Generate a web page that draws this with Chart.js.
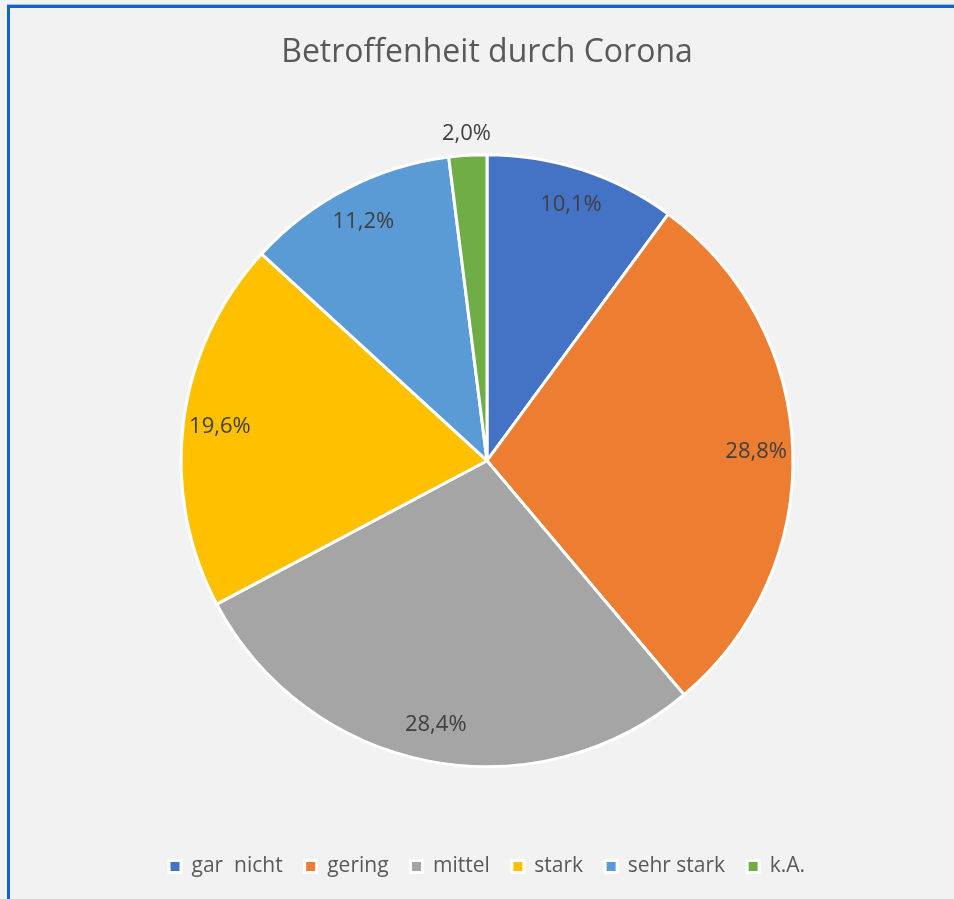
<!DOCTYPE html>
<html>
<head>
<meta charset="utf-8">
<script src="https://cdn.jsdelivr.net/npm/chart.js@4"></script>
<style>
    html, body { margin: 0; padding: 0; background: #f2f2f2; overflow: hidden; }
    #frame {
        position: absolute; left: 7px; top: 5px; width: 960px; height: 900px;
        border-left: 3px solid #0f64c8; border-top: 3px solid #0f64c8;
        box-shadow: 0 -1px 0 #9cc0ea;
    }
    #wrap { position: absolute; left: 0; top: 0; width: 954px; height: 887px; }
</style>
</head>
<body>
<div id="frame"></div>
<div id="wrap"><canvas id="myChart"></canvas></div>
<script>
const categories = ['gar  nicht', 'gering', 'mittel', 'stark', 'sehr stark', 'k.A.'];
const shares = [10.1, 28.8, 28.4, 19.6, 11.2, 2.0];
const sliceColors = ['#4472c4', '#ed7d31', '#a5a5a5', '#ffc000', '#5b9bd5', '#70ad47'];

// Prozentwerte in die Segmente schreiben
const sliceLabels = {
    id: 'sliceLabels',
    afterDatasetsDraw(chart) {
        const ctx = chart.ctx;
        const meta = chart.getDatasetMeta(0);
        ctx.save();
        ctx.font = '22px "Open Sans"';
        ctx.fillStyle = '#404040';
        ctx.textAlign = 'center';
        ctx.textBaseline = 'middle';
        meta.data.forEach((arc, i) => {
            const p = arc.getProps(['x', 'y', 'startAngle', 'endAngle', 'outerRadius'], true);
            const mid = (p.startAngle + p.endAngle) / 2;
            const r = shares[i] < 5 ? p.outerRadius + 22 : p.outerRadius * 0.88;
            const text = shares[i].toFixed(1).replace('.', ',') + '%';
            ctx.fillText(text, p.x + Math.cos(mid) * r, p.y + Math.sin(mid) * r);
        });
        ctx.restore();
    }
};

const ctx = document.getElementById('myChart').getContext('2d');
new Chart(ctx, {
    type: 'pie',
    data: {
        labels: categories,
        datasets: [{
            data: shares,
            backgroundColor: sliceColors,
            borderColor: '#ffffff',
            borderWidth: 3,
            radius: 306
        }]
    },
    options: {
        responsive: true,
        maintainAspectRatio: false,
        animation: false,
        layout: { padding: { left: 20 } },
        plugins: {
            title: {
                display: true,
                text: 'Betroffenheit durch Corona',
                color: '#595959',
                font: { family: '"Open Sans"', size: 32, weight: 'normal' },
                padding: { top: 34, bottom: 15 }
            },
            legend: {
                position: 'bottom',
                labels: {
                    color: '#595959',
                    font: { family: '"Open Sans"', size: 21 },
                    boxWidth: 12,
                    boxHeight: 12,
                    padding: 22
                }
            },
            tooltip: { enabled: false }
        }
    },
    plugins: [sliceLabels]
});
</script>
</body>
</html>
